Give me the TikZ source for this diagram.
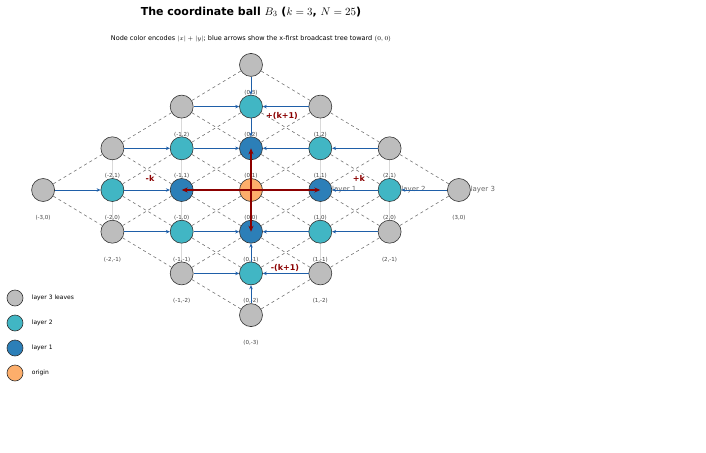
\documentclass[tikz,border=0pt]{standalone}
\usepackage{fontspec}
\setmainfont{DejaVu Sans}
\definecolor{lthree}{HTML}{BDBDBD}
\definecolor{ltwo}{HTML}{41B6C4}
\definecolor{lone}{HTML}{2C7FB8}
\definecolor{lorig}{HTML}{FDAE6B}
\definecolor{tree}{HTML}{1F5FA8}
\definecolor{hop}{HTML}{8B0000}
\usetikzlibrary{positioning, arrows.meta}

\tikzset{
  pnode/.style = {circle, draw=black!80, line width=0.6pt, minimum size=23pt, inner sep=0pt},
  lbl/.style = {font=\fontsize{5.5}{6}\selectfont, text=black!75, label distance=10pt},
  bcast/.style = {draw=tree, line width=0.9pt, -{Stealth[length=4pt,width=3.5pt]}},
  hopa/.style = {draw=hop, line width=1.6pt, -{Stealth[length=6pt,width=5pt]}},
  hoplbl/.style = {font=\bfseries\fontsize{8}{9}\selectfont, text=hop},
  diag/.style = {draw=black!55, dashed, line width=0.6pt},
  vert/.style = {draw=black!15, line width=0.8pt},
  laytxt/.style = {font=\fontsize{7}{8}\selectfont, text=black!60, anchor=west},
  legtxt/.style = {font=\fontsize{6}{7}\selectfont, anchor=west}
}

\begin{document}
\begin{tikzpicture}[x=1pt, y=1pt]
  \useasboundingbox (0,0) rectangle (706,-452);

  % title and subtitle
  \node (title) at (251,-12) {\bfseries\fontsize{11}{13}\selectfont The coordinate ball $B_3$ ($k=3$, $N=25$)};
  \node (sub) at (251,-39) {\fontsize{6.5}{8}\selectfont Node color encodes $|x|+|y|$; blue arrows show the x-first broadcast tree toward $(0,0)$};

  \begin{scope}[shift={(251,-190)}, x=69.3pt, y=41.7pt]
    % grid lines
    \foreach \x in {-3,...,3} {
      \foreach \y in {-3,...,3} {
        \pgfmathtruncatemacro\d{abs(\x)+abs(\y)}
        \pgfmathtruncatemacro\du{abs(\x+1)+abs(\y+1)}
        \pgfmathtruncatemacro\dd{abs(\x+1)+abs(\y-1)}
        \pgfmathtruncatemacro\dv{abs(\x)+abs(\y+1)}
        \ifnum\d<4
          \ifnum\du<4 \draw[diag] (\x,\y) -- (\x+1,\y+1); \fi
          \ifnum\dd<4 \draw[diag] (\x,\y) -- (\x+1,\y-1); \fi
          \ifnum\x=0 \else \ifnum\dv<4 \draw[vert] (\x,\y) -- (\x,\y+1); \fi \fi
        \fi
      }
    }

    % layer captions, partly behind nodes
    \node[laytxt] (lay1) at (1.12,0) {layer 1};
    \node[laytxt] (lay2) at (2.12,0) {layer 2};
    \node[laytxt] (lay3) at (3.12,0) {layer 3};

    % nodes
    \foreach \x in {-3,...,3} {
      \foreach \y in {-3,...,3} {
        \pgfmathtruncatemacro\d{abs(\x)+abs(\y)}
        \ifnum\d<4
          \ifcase\d \def\col{lorig}\or \def\col{lone}\or \def\col{ltwo}\else \def\col{lthree}\fi
          \node[pnode, fill=\col, label={[lbl]below:(\x,\y)}] (n\x_\y) at (\x,\y) {};
        \fi
      }
    }

    % broadcast tree
    \foreach \x in {-3,...,3} {
      \foreach \y in {-3,...,3} {
        \pgfmathtruncatemacro\d{abs(\x)+abs(\y)}
        \ifnum\d<4 \ifnum\d>1
          \ifnum\x<0 \pgfmathtruncatemacro\nx{\x+1}\draw[bcast] (n\x_\y) -- (n\nx_\y);
          \else\ifnum\x>0 \pgfmathtruncatemacro\nx{\x-1}\draw[bcast] (n\x_\y) -- (n\nx_\y);
          \else\ifnum\y>0 \pgfmathtruncatemacro\ny{\y-1}\draw[bcast] (n\x_\y) -- (n\x_\ny);
          \else \pgfmathtruncatemacro\ny{\y+1}\draw[bcast] (n\x_\y) -- (n\x_\ny);
          \fi\fi\fi
        \fi\fi
      }
    }

    % hops from the origin
    \draw[hopa] (n0_0.center) -- (n1_0.center);
    \draw[hopa] (n0_0.center) -- (n-1_0.center);
    \draw[hopa] (n0_0.center) -- (n0_1.center);
    \draw[hopa] (n0_0.center) -- (n0_-1.center);
  \end{scope}

  \node[hoplbl] (kp) at (359,-178) {+k};
  \node[hoplbl] (km) at (150,-178) {-k};
  \node[hoplbl] (kup) at (282,-116) {+(k+1)};
  \node[hoplbl] (kdn) at (285,-268) {-(k+1)};

  % legend
  \foreach \c/\t [count=\i from 0] in {lthree/layer 3 leaves, ltwo/layer 2, lone/layer 1, lorig/origin} {
    \node[pnode, minimum size=16pt, fill=\c] (leg\i) at (15,-298-25*\i) {};
    \node[legtxt, right=5pt of leg\i] (legt\i) {\t};
  }
\end{tikzpicture}
\end{document}
